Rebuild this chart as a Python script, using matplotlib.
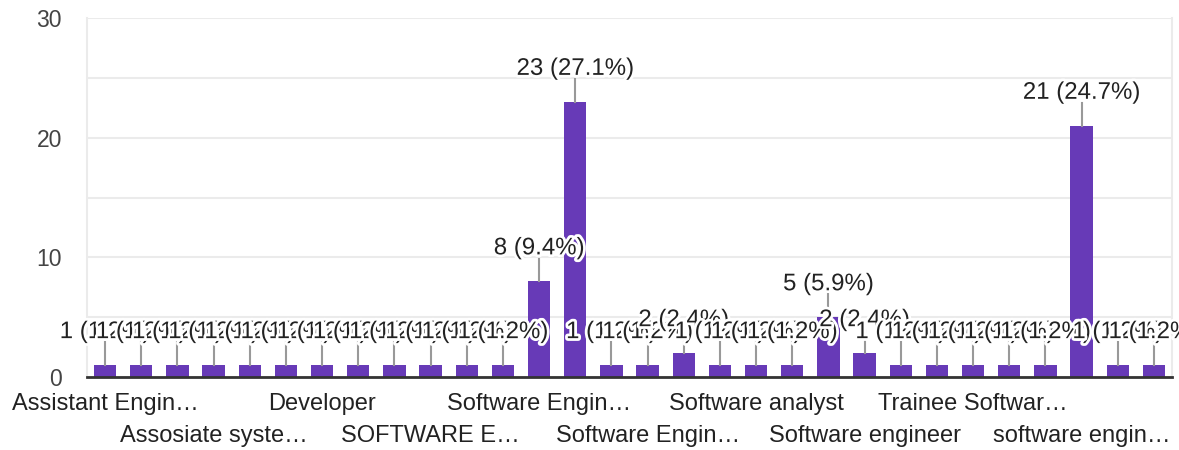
import matplotlib
matplotlib.use('Agg')
import matplotlib.pyplot as plt
import matplotlib.patheffects as pe
from matplotlib.patches import Rectangle
import numpy as np

plt.rcParams['font.family'] = ['Liberation Sans', 'DejaVu Sans']

categories = [
    "Assistant Engineer", "Assistant System Engineer", "Associate Software Engineer",
    "Assosiate system engineer", "Automation Engineer", "Data Analyst",
    "Developer", "Full Stack Developer", "Programmer Analyst",
    "SOFTWARE ENGINEER", "SOFTWARE TESTER", "Senior Software Engineer",
    "Software Engineer", "Software Engineer ", "Software Engineer II",
    "Software Engineer Trainee", "Software Tester", "Software Trainee",
    "Software analyst", "Software developer", "Software engg",
    "Software engineer", "System Engineer", "Tech Lead",
    "Trainee Software Engineer", "Web Developer", "associate software engineer",
    "software engineer", "software engineer trainee", "system engineer",
]
counts = [1, 1, 1, 1, 1, 1, 1, 1, 1, 1, 1, 1, 8, 23, 1, 1, 2, 1, 1, 1,
          5, 2, 1, 1, 1, 1, 1, 21, 1, 1]
tick_labels = ["Assistant Engin…", "Assosiate syste…", "Developer", "SOFTWARE E…",
               "Software Engin…", "Software Engin…", "Software analyst",
               "Software engineer", "Trainee Softwar…", "software engin…"]

total = sum(counts)
W, H = 1179, 450
fig = plt.figure(figsize=(W / 100, H / 100), dpi=100)
ax = fig.add_axes([87 / W, 73 / H, 1085 / W, 359 / H])

x = np.arange(len(categories))
ax.bar(x, counts, width=0.62, color='#673ab7', zorder=3)
ax.set_xlim(-0.5, len(categories) - 0.5)
ax.set_ylim(0, 30)

ax.set_yticks([0, 10, 20, 30])
ax.set_yticks([5, 15, 25], minor=True)
ax.grid(axis='y', which='both', color='#ebebeb', lw=1.5, zorder=0)
ax.tick_params(axis='y', which='both', length=0, pad=18, labelsize=16.5, labelcolor='#444444')

pos = x[::3]
row1 = pos[0::2]
row2 = pos[1::2]
ax.set_xticks(row1, tick_labels[0::2])
ax.set_xticks(row2, tick_labels[1::2], minor=True)
ax.tick_params(axis='x', which='both', length=0, labelsize=17, labelcolor='#222222')
ax.tick_params(axis='x', which='major', pad=11.5)
ax.tick_params(axis='x', which='minor', pad=34.5)

for s in ['left', 'right', 'top']:
    ax.spines[s].set_color('#ebebeb')
    ax.spines[s].set_linewidth(1.5)
ax.spines['top'].set_visible(False)
ax.spines['bottom'].set_color('#333333')
ax.spines['bottom'].set_linewidth(2)
ax.spines['bottom'].set_zorder(6)

clip_rect = Rectangle((0, 0), 1172 / W, 1, transform=fig.transFigure,
                      facecolor='none', edgecolor='none')
fig.add_artist(clip_rect)

for i, c in enumerate(counts):
    ax.plot([i, i], [c, c + 1.9], color='#999999', lw=1.5, zorder=4)
for i, c in enumerate(counts):
    pct = c / total * 100
    t = ax.text(i, c + 2.75, f"{c} ({pct:.1f}%)", ha='center', va='center',
                fontsize=17.3, color='#222222', zorder=5, clip_on=True,
                path_effects=[pe.withStroke(linewidth=4, foreground='white')])
    t.set_clip_path(clip_rect)
    t.set_clip_box(None)

fig.savefig('out.png', dpi=100)
